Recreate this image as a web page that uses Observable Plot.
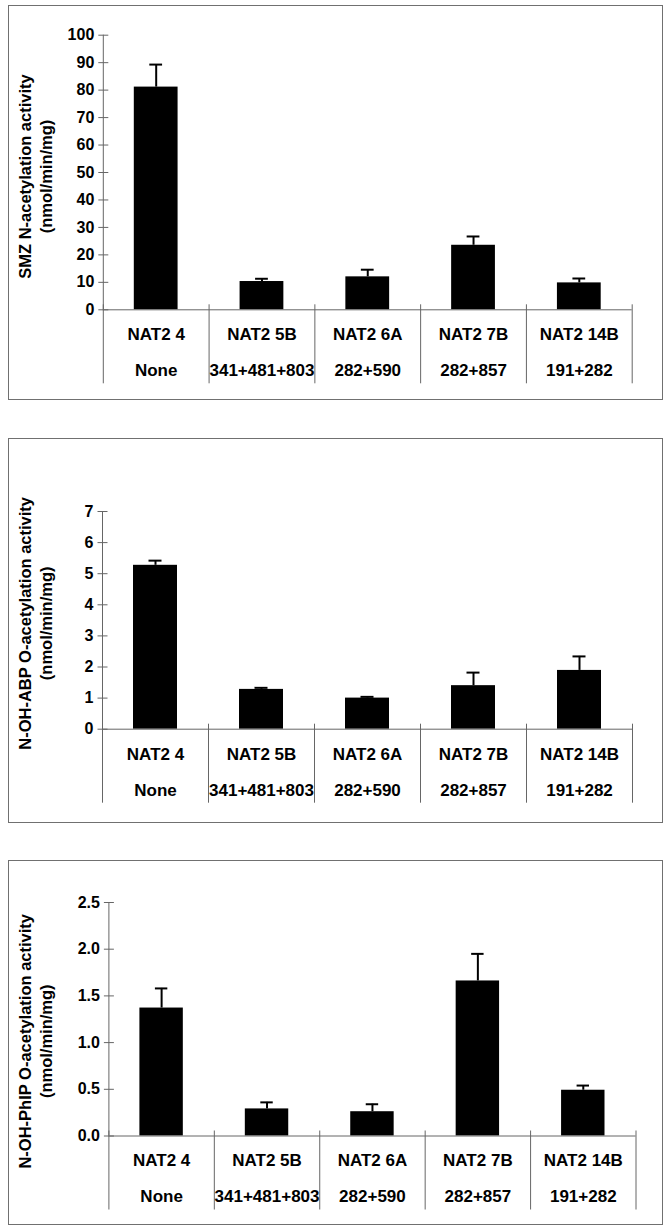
<!DOCTYPE html>
<html>
<head>
<meta charset="utf-8">
<script src="https://cdn.jsdelivr.net/npm/d3@7"></script>
<script src="https://cdn.jsdelivr.net/npm/@observablehq/plot@0.6"></script>
<style>
  html, body { margin: 0; padding: 0; background: #fff; }
  #page { position: relative; width: 668px; height: 1232px; overflow: hidden; background: #fff; }
  .panel { position: absolute; left: 0; }
  .border { position: absolute; border: 1.5px solid #707070; box-sizing: border-box; pointer-events: none; }
</style>
</head>
<body>
<div id="page"></div>
<script>
// ---- data ----
const genotypes = ["NAT2 4", "NAT2 5B", "NAT2 6A", "NAT2 7B", "NAT2 14B"];
const mutations = ["None", "341+481+803", "282+590", "282+857", "191+282"];

const smzMean = [81.1, 10.3, 12.0, 23.5, 9.8];
const smzSD   = [8.2, 1.0, 2.6, 3.2, 1.6];
const smzTicks = [0, 10, 20, 30, 40, 50, 60, 70, 80, 90, 100];

const abpMean = [5.27, 1.28, 1.00, 1.40, 1.89];
const abpSD   = [0.15, 0.05, 0.04, 0.42, 0.45];
const abpTicks = [0, 1, 2, 3, 4, 5, 6, 7];

const phipMean = [1.37, 0.29, 0.26, 1.66, 0.49];
const phipSD   = [0.21, 0.07, 0.08, 0.29, 0.05];
const phipTicks = [0, 0.5, 1.0, 1.5, 2.0, 2.5];

const titles = [
  "SMZ N-acetylation activity\n(nmol/min/mg)",
  "N-OH-ABP O-acetylation activity\n(nmol/min/mg)",
  "N-OH-PhIP O-acetylation activity\n(nmol/min/mg)"
];

const FONT = '"Liberation Sans", Arial, Helvetica, sans-serif';
const AX = "#666";

function panel(o) {
  const rows = genotypes.map((g, i) => ({i, g, m: mutations[i], v: o.mean[i], e: o.mean[i] + o.sd[i]}));
  const bounds = d3.range(genotypes.length + 1);
  return Plot.plot({
    width: 668,
    height: o.height,
    marginTop: o.marginTop,
    marginBottom: o.marginBottom,
    marginLeft: o.marginLeft,
    marginRight: o.marginRight,
    x: {domain: [0, genotypes.length], axis: null},
    y: {domain: [0, o.ticks[o.ticks.length - 1]], axis: null},
    style: {fontFamily: FONT, fontWeight: "bold", color: "#000", background: "transparent", overflow: "visible"},
    marks: [
      Plot.rect(rows, {x1: "i", x2: d => d.i + 1, y1: 0, y2: "v", fill: "#000", insetLeft: 31, insetRight: 31}),
      Plot.ruleX(rows, {x: d => d.i + 0.5, y1: "v", y2: "e", stroke: "#000", strokeWidth: 2}),
      Plot.ruleY(rows, {y: "e", x1: "i", x2: d => d.i + 1, insetLeft: 46.5, insetRight: 46.5, stroke: "#000", strokeWidth: 2}),
      Plot.ruleX([0], {stroke: AX}),
      Plot.ruleY([0], {stroke: AX}),
      Plot.ruleY(o.ticks, {y: d => d, x1: 0, x2: 0, insetLeft: -4.5, insetRight: -5.5, stroke: AX}),
      Plot.ruleX(bounds, {x: d => d, y1: 0, y2: 0, insetTop: -5, insetBottom: -74, stroke: AX}),
      Plot.text(o.ticks, {y: d => d, frameAnchor: "left", textAnchor: "end", dx: -9, text: o.fmt, fontSize: 16, fontWeight: "bold", fill: "#000"}),
      Plot.text(rows, {x: d => d.i + 0.5, y: 0, dy: 25, text: "g", fontSize: 17, fontWeight: "bold", fill: "#000"}),
      Plot.text(rows, {x: d => d.i + 0.5, y: 0, dy: 61, text: "m", fontSize: 17, fontWeight: "bold", fill: "#000"}),
      Plot.text([o.title], {frameAnchor: "left", textAnchor: "middle", rotate: -90, dx: -o.marginLeft + 34, dy: o.titleDy, text: d => d, fontSize: 16.5, fontWeight: "bold", lineHeight: 1.33, fill: "#000"})
    ]
  });
}

const page = document.getElementById("page");
const specs = [
  {top: 5, height: 395, marginTop: 29.7, marginBottom: 90.7, marginLeft: 102.8, marginRight: 36.3,
   mean: smzMean, sd: smzSD, ticks: smzTicks, fmt: d => String(d), title: titles[0], titleDy: 4},
  {top: 438, height: 385, marginTop: 73, marginBottom: 94.3, marginLeft: 102, marginRight: 36,
   mean: abpMean, sd: abpSD, ticks: abpTicks, fmt: d => String(d), title: titles[1], titleDy: 3},
  {top: 860, height: 365, marginTop: 42, marginBottom: 89.5, marginLeft: 108.4, marginRight: 32.5,
   mean: phipMean, sd: phipSD, ticks: phipTicks, fmt: d3.format(".1f"), title: titles[2], titleDy: 22}
];
const borders = [
  {left: 7.5, top: 5, width: 655.5, height: 395},
  {left: 7.5, top: 438, width: 655.5, height: 385},
  {left: 7.5, top: 860, width: 655.5, height: 365}
];
specs.forEach((s, k) => {
  const wrap = document.createElement("div");
  wrap.className = "panel";
  wrap.style.top = s.top + "px";
  wrap.appendChild(panel(s));
  page.appendChild(wrap);
  const b = document.createElement("div");
  b.className = "border";
  const bb = borders[k];
  b.style.left = bb.left + "px"; b.style.top = bb.top + "px";
  b.style.width = bb.width + "px"; b.style.height = bb.height + "px";
  page.appendChild(b);
});
</script>
</body>
</html>
